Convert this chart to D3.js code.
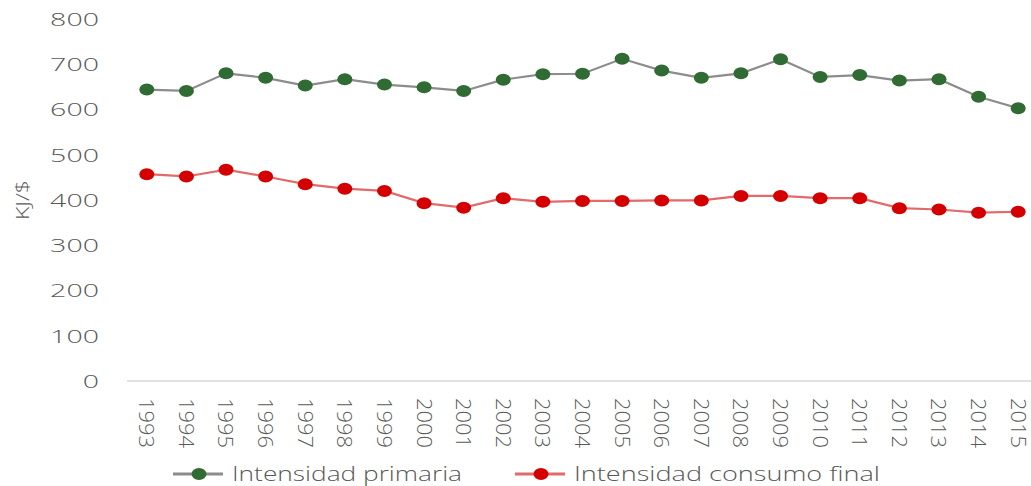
<!DOCTYPE html>
<meta charset="utf-8">
<style>
  body { margin: 0; background: #fff; }
  svg text { font-family: "Open Sans", "DejaVu Sans", sans-serif; font-weight: 300; fill: #595959; }
</style>
<body>
<svg id="chart" width="1031" height="486"></svg>
<script src="https://d3js.org/d3.v7.min.js"></script>
<script>

const years = ["1993","1994","1995","1996","1997","1998","1999","2000","2001","2002","2003",
               "2004","2005","2006","2007","2008","2009","2010","2011","2012","2013","2014","2015"];
const primaria = [644, 641, 680, 670, 653, 667, 655, 649, 641, 666, 678,
                  679, 712, 686, 670, 680, 711, 672, 676, 664, 667, 628, 603];
const consumoFinal = [457, 452, 467, 452, 435, 425, 420, 393, 383, 404, 396,
                      398, 398, 399, 399, 409, 409, 404, 404, 382, 379, 372, 374];
const yTicks = [0, 100, 200, 300, 400, 500, 600, 700, 800];
const seriesNames = ["Intensidad primaria", "Intensidad consumo final"];

const svg = d3.select('#chart');

const x = d3.scalePoint().domain(years).range([127, 1038]).padding(0.5);
const y = d3.scaleLinear().domain([0, 800]).range([381, 19]);

// y tick labels, no axis line
svg.append('g').selectAll('text')
  .data(yTicks)
  .enter().append('text')
  .attr('x', 99)
  .attr('y', d => y(d))
  .attr('dy', '0.36em')
  .attr('text-anchor', 'end')
  .style('font-size', '19px')
  .attr('textLength', d => String(d).length * 16.3)
  .attr('lengthAdjust', 'spacingAndGlyphs')
  .text(d => d);

// y title
svg.append('text')
  .attr('transform', 'translate(22,200) rotate(-90)')
  .attr('text-anchor', 'middle')
  .attr('dy', '0.35em')
  .style('font-size', '19px')
  .attr('textLength', 40)
  .attr('lengthAdjust', 'spacingAndGlyphs')
  .text('KJ/$');

// x axis line
svg.append('line')
  .attr('x1', 127).attr('x2', 1038)
  .attr('y1', y(0)).attr('y2', y(0))
  .style('stroke', '#d9d9d9')
  .style('stroke-width', 1.5);

// x tick labels rotated
svg.append('g').selectAll('text')
  .data(years)
  .enter().append('text')
  .attr('transform', d => `translate(${x(d)},398) rotate(90)`)
  .attr('dy', '0.36em')
  .style('font-size', '21px')
  .attr('textLength', 50)
  .attr('lengthAdjust', 'spacingAndGlyphs')
  .text(d => d);

const series = [
  { name: seriesNames[0], values: primaria, line: '#8c8c8c', dot: '#2f6b32' },
  { name: seriesNames[1], values: consumoFinal, line: '#e26a6a', dot: '#d40000' }
];

const line = d3.line()
  .x((d, i) => x(years[i]))
  .y(d => y(d));

series.forEach(s => {
  svg.append('path')
    .datum(s.values)
    .attr('d', line)
    .style('fill', 'none')
    .style('stroke', s.line)
    .style('stroke-width', 2.2);

  svg.append('g').selectAll('ellipse')
    .data(s.values)
    .enter().append('ellipse')
    .attr('cx', (d, i) => x(years[i]))
    .attr('cy', d => y(d))
    .attr('rx', 7.5)
    .attr('ry', 6)
    .style('fill', s.dot);
});

// legend
const legendX = [173, 515];
const legendW = [230, 306];
const legend = svg.append('g').selectAll('g')
  .data(series)
  .enter().append('g')
  .attr('transform', (d, i) => `translate(${legendX[i]},474)`);

legend.append('line')
  .attr('x1', 0).attr('x2', 50)
  .style('stroke', d => d.line)
  .style('stroke-width', 3);

legend.append('ellipse')
  .attr('cx', 26)
  .attr('rx', 7.5).attr('ry', 6)
  .style('fill', d => d.dot);

legend.append('text')
  .attr('x', 59)
  .attr('dy', '0.36em')
  .style('font-size', '20px')
  .attr('textLength', (d, i) => legendW[i])
  .attr('lengthAdjust', 'spacingAndGlyphs')
  .text(d => d.name);

</script>
</body>
